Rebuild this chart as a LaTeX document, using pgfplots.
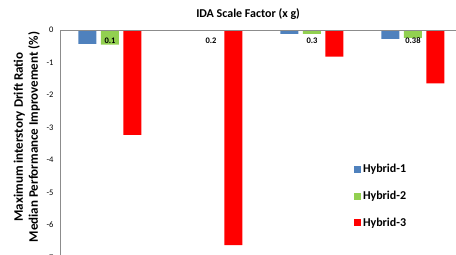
\documentclass[border=0pt]{standalone}
\usepackage{fontspec}
\setmainfont{Carlito}
\usepackage{pgfplots}
\pgfplotsset{compat=1.18}
\definecolor{hblue}{HTML}{4F81BD}
\definecolor{hgreen}{HTML}{92D050}
\definecolor{hred}{HTML}{FF0000}
\definecolor{axgray}{HTML}{8C8C8C}
\begin{document}
\begin{tikzpicture}
\begin{axis}[
  at={(60bp,-30bp)}, anchor=north west,
  scale only axis, width=396bp, height=227.5bp,
  xmin=-0.495, xmax=3.426, ymin=-7, ymax=0,
  axis x line*=top, axis y line*=left,
  axis line style={draw=axgray, line width=0.8bp, -},
  axis on top,
  ybar=4.5bp, bar width=18bp,
  xtick={0,1,2,3}, xticklabels={0.1,0.2,0.3,0.38},
  xticklabel style={anchor=north, yshift=-4bp, font=\fontsize{8.5bp}{10bp}\selectfont\bfseries},
  ytick={-7,-6,-5,-4,-3,-2,-1,0},
  yticklabels={-7,-6,-5,-4,-3,-2,-1,0},
  yticklabel style={font=\fontsize{8.5bp}{10bp}\selectfont, xshift=-3bp},
  major tick length=0pt,
  title={IDA Scale Factor (x g)},
  title style={at={(axis description cs:0.475,1)}, anchor=base, yshift=7bp, font=\fontsize{12bp}{14bp}\selectfont\bfseries},
  ylabel={Maximum interstory Drift Ratio\\Median Performance Improvement (\%)},
  every axis y label/.style={at={(axis description cs:-0.042,0.53)}, anchor=south, rotate=90, align=center, font=\fontsize{13bp}{15bp}\selectfont\bfseries},
  legend style={at={(axis description cs:0.742,0.42)}, anchor=north west, draw=none, fill=none, inner sep=0pt, row sep=13bp, font=\fontsize{12bp}{14bp}\selectfont\bfseries},
  legend cell align=left,
  legend image code/.code={\fill[#1] (0bp,-3.5bp) rectangle (7bp,3.5bp);},
]
\addplot[fill=hblue, draw=none] coordinates {(0,-0.43) (1,-0.02) (2,-0.12) (3,-0.27)};
\addplot[fill=hgreen, draw=none] coordinates {(0,-0.45) (1,-0.01) (2,-0.12) (3,-0.24)};
\addplot[fill=hred, draw=none] coordinates {(0,-3.23) (1,-6.62) (2,-0.82) (3,-1.64)};
\legend{Hybrid-1,Hybrid-2,Hybrid-3}
\end{axis}
\pgfresetboundingbox
\path[use as bounding box] (0,0) rectangle (456bp,-255bp);
\end{tikzpicture}
\end{document}
